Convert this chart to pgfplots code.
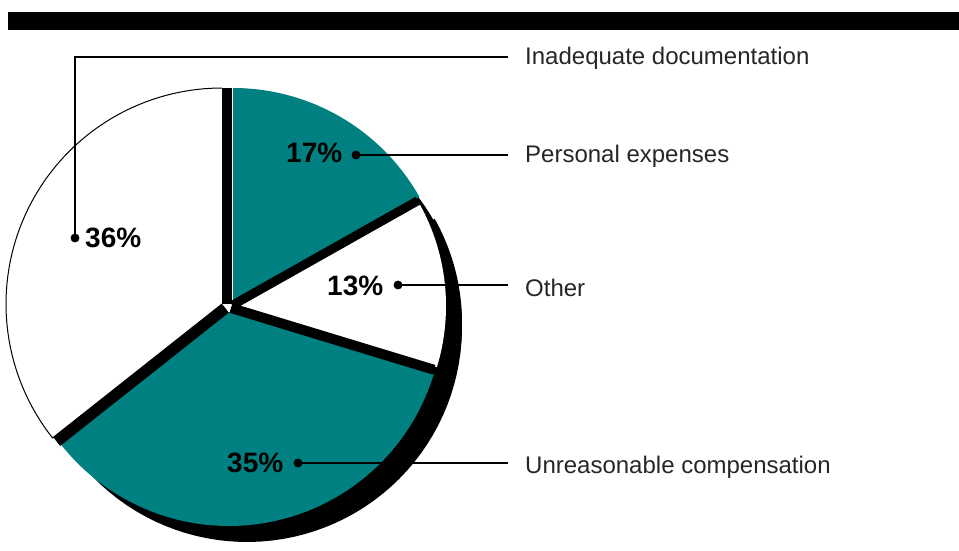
\documentclass[border=0pt]{standalone}
\usepackage{fontspec}
\setmainfont{Liberation Sans}
\usepackage{pgfplots}
\usepackage{pgfplotstable}
\pgfplotsset{compat=1.18}
\definecolor{pieteal}{HTML}{008080}

\pgfplotstableread{
label value
Personal 17
Other 13
Unreasonable 35
Inadequate 36
}\piedata

\pgfplotstablegetelem{0}{value}\of\piedata \let\vA\pgfplotsretval
\pgfplotstablegetelem{1}{value}\of\piedata \let\vB\pgfplotsretval
\pgfplotstablegetelem{2}{value}\of\piedata \let\vC\pgfplotsretval
\pgfplotstablegetelem{3}{value}\of\piedata \let\vD\pgfplotsretval
\pgfmathsetmacro{\tot}{\vA+\vB+\vC+\vD}
\pgfmathsetmacro{\aO}{90}
\pgfmathsetmacro{\aA}{\aO-\vA/\tot*360}
\pgfmathsetmacro{\aB}{\aA-\vB/\tot*360}
\pgfmathsetmacro{\aC}{\aB-\vC/\tot*360}
\pgfmathsetmacro{\aD}{\aC-\vD/\tot*360}

% #1 style, #2 cx, #3 cy, #4 R, #5 start angle, #6 end angle
\newcommand{\sector}[6]{%
\addplot[#1, samples=81, domain=0:80, variable=\t]
 ({#2 + (\t>0.5)*#4*cos(#5 + (#6-#5)*(\t-1)/79)},
  {#3 + (\t>0.5)*#4*sin(#5 + (#6-#5)*(\t-1)/79)});
}
% #1 style, #2 cx, #3 cy, #4 length, #5 angle
\newcommand{\spoke}[5]{%
\addplot[#1, samples=2, domain=0:1, variable=\t]
 ({#2 + \t*#4*cos(#5)}, {#3 + \t*#4*sin(#5)});
}

\begin{document}
\begin{tikzpicture}
\begin{axis}[
  x=1pt, y=1pt,
  xmin=0, xmax=959, ymin=0, ymax=550,
  hide axis,
  clip=true,
]
% frame the full picture area
\addplot[draw=none, forget plot] coordinates {(0,0) (959,550)};
\path (axis cs:0,0) rectangle (axis cs:959,550);

% top bar
\addplot[fill=black, draw=none] coordinates {(8,520) (959,520) (959,538) (8,538)};

% shadow (one piece under the three exploded slices)
\sector{fill=black, draw=none}{247}{223}{215}{\aO}{\aC}
\sector{fill=black, draw=none}{250}{227}{212}{\aA}{\aB}

% slices
\sector{fill=white, draw=black, line width=1pt}{222}{246}{216}{\aC}{\aD}
\sector{fill=pieteal, draw=none}{233}{248}{214}{\aO}{\aA}
\sector{fill=white, draw=none}{236}{244}{210}{\aA}{\aB}
\sector{fill=pieteal, draw=none}{229}{238}{214}{\aB}{\aC}

% separating black spokes
\spoke{black, line width=10pt}{227}{246}{216}{90}
\spoke{black, line width=9pt}{232.3}{244.7}{213}{\aA}
\spoke{black, line width=10pt}{231}{242}{212}{\aB}
\spoke{black, line width=11pt}{225.4}{241.7}{215}{\aC}

% leader lines
\addplot[black, line width=1.2pt] coordinates {(75,312) (75,493) (508,493)};
\addplot[black, line width=1.2pt] coordinates {(356,395) (508,395)};
\addplot[black, line width=1.2pt] coordinates {(398,265) (508,265)};
\addplot[black, line width=1.2pt] coordinates {(298,87) (508,87)};
\addplot[only marks, mark=*, mark size=4.2pt, black] coordinates {(75,312) (356,395) (398,265) (298,87)};

% percentage labels
\node[anchor=base west, inner sep=0pt, font=\fontsize{28}{30}\selectfont\bfseries] at (axis cs:85,302) {36\%};
\node[anchor=base west, inner sep=0pt, font=\fontsize{28}{30}\selectfont\bfseries] at (axis cs:286,387) {17\%};
\node[anchor=base west, inner sep=0pt, font=\fontsize{28}{30}\selectfont\bfseries] at (axis cs:327,255) {13\%};
\node[anchor=base west, inner sep=0pt, font=\fontsize{28}{30}\selectfont\bfseries] at (axis cs:227,78) {35\%};

% category labels
\node[anchor=base west, inner sep=0pt, text=black!85, font=\fontsize{24}{26}\selectfont] at (axis cs:525,485) {Inadequate documentation};
\node[anchor=base west, inner sep=0pt, text=black!85, font=\fontsize{24}{26}\selectfont] at (axis cs:525,387) {Personal expenses};
\node[anchor=base west, inner sep=0pt, text=black!85, font=\fontsize{24}{26}\selectfont] at (axis cs:525,254) {Other};
\node[anchor=base west, inner sep=0pt, text=black!85, font=\fontsize{24}{26}\selectfont] at (axis cs:525,77) {Unreasonable compensation};
\end{axis}
\end{tikzpicture}
\end{document}
